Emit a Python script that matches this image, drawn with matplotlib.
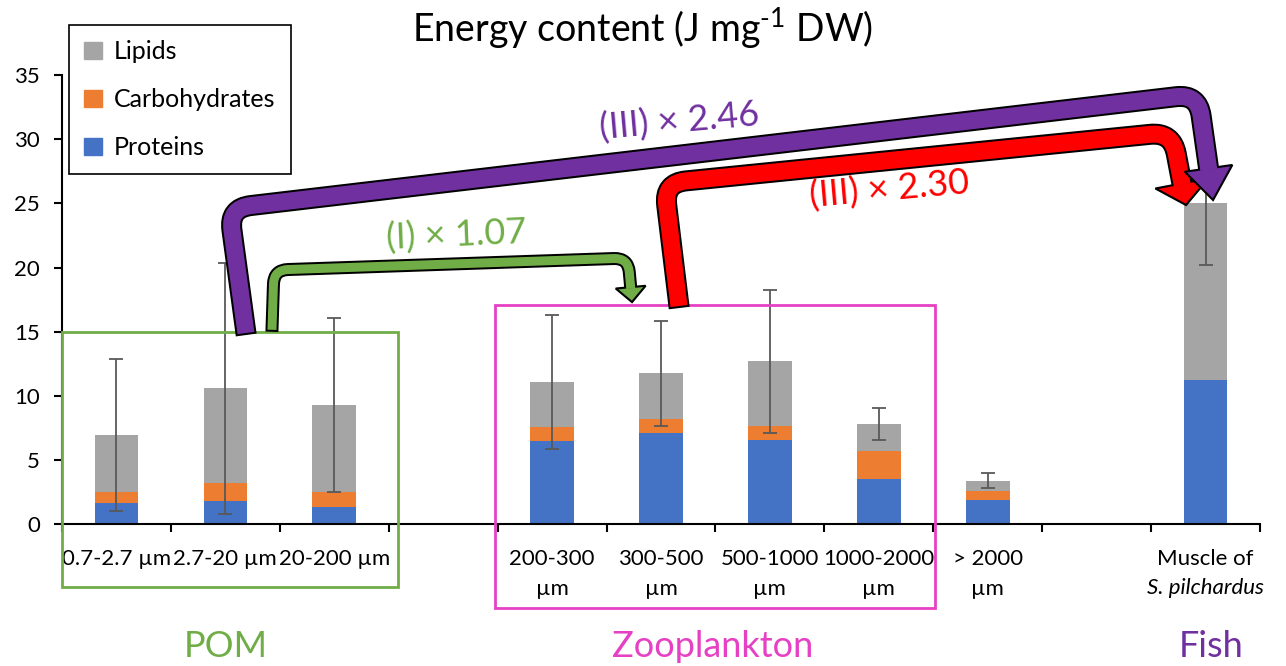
import numpy as np
import matplotlib
matplotlib.use("Agg")
import matplotlib.pyplot as plt
from matplotlib.patches import Patch, Rectangle, Polygon, PathPatch
from matplotlib.path import Path

plt.rcParams['font.family'] = ['Lato', 'DejaVu Sans']
plt.rcParams['mathtext.fontset'] = 'custom'
plt.rcParams['mathtext.rm'] = 'Lato'

# data (J mg-1 DW)
categories = ['0.7-2.7 µm', '2.7-20 µm', '20-200 µm', '200-300\nµm', '300-500\nµm',
              '500-1000\nµm', '1000-2000\nµm', '> 2000\nµm', 'Muscle of']
slots = [0, 1, 2, 4, 5, 6, 7, 8, 10]
proteins = [1.63, 1.79, 1.32, 6.49, 7.11, 6.57, 3.55, 1.87, 11.24]
carbohydrates = [0.86, 1.40, 1.17, 1.09, 1.07, 1.09, 2.16, 0.70, 0.0]
lipids = [4.46, 7.40, 6.80, 3.48, 3.58, 5.03, 2.10, 0.83, 13.81]
errors = [5.9, 9.8, 6.75, 5.23, 4.07, 5.55, 1.25, 0.6, 4.85]

c_lip = '#A5A5A5'
c_carb = '#ED7D31'
c_prot = '#4472C4'
purple = '#7030A0'
green = '#70AD47'
magenta = '#E641C4'

fig = plt.figure(figsize=(12.86, 6.66), dpi=100)
ax = fig.add_axes([62/1286, 1-524.3/666, 1198/1286, 449.3/666])

prot = np.array(proteins)
carb = np.array(carbohydrates)
lip = np.array(lipids)
ax.bar(slots, prot, width=0.4, color=c_prot, zorder=2)
ax.bar(slots, carb, width=0.4, bottom=prot, color=c_carb, zorder=2)
ax.bar(slots, lip, width=0.4, bottom=prot + carb, color=c_lip, zorder=2)
ax.errorbar(slots, prot + carb + lip, yerr=errors, fmt='none', ecolor='#595959',
            elinewidth=1.3, capsize=5, capthick=1.3, zorder=3)

ax.set_xlim(-0.5, 10.5)
ax.set_ylim(0, 35)
ax.set_yticks(range(0, 36, 5))
for s in ['top', 'right']:
    ax.spines[s].set_visible(False)
for s in ['left', 'bottom']:
    ax.spines[s].set_linewidth(1.5)
ax.tick_params(axis='y', length=6, width=1.5, pad=10, labelsize=16)
ax.set_xticks(slots)
ax.set_xticklabels(categories, fontsize=16, linespacing=1.6)
ax.tick_params(axis='x', length=0, pad=18)
ax.set_xticks(np.arange(-0.5, 11, 1), minor=True)
ax.tick_params(axis='x', which='minor', length=6, width=1.5)
ax.annotate('S. pilchardus', xy=(10, 0), xycoords=('data', 'axes fraction'),
            xytext=(0, -64), textcoords='offset pixels', ha='center', va='center',
            fontsize=16, style='italic', annotation_clip=False)

fig.text(0.5, 1-29/666, 'Energy content (J mg$^{\\text{-1}}$ DW)', ha='center', va='center',
         fontsize=27)

handles = [Patch(color=c_lip, label='Lipids'),
           Patch(color=c_carb, label='Carbohydrates'),
           Patch(color=c_prot, label='Proteins')]
leg = ax.legend(handles=handles, loc='upper left', bbox_to_anchor=(69/1286, 1-25/666),
                bbox_transform=fig.transFigure, borderaxespad=0, fancybox=False,
                edgecolor='black', fontsize=18, handlelength=0.7, handleheight=0.7,
                handletextpad=0.5, labelspacing=1.0, borderpad=0.6, framealpha=1)
leg.get_frame().set_linewidth(1.2)

# group boxes and labels
ax.add_patch(Rectangle((-0.5, -4.88), 3.085, 19.88, fill=False, edgecolor=green,
                       lw=2, clip_on=False, zorder=4))
ax.add_patch(Rectangle((3.48, -6.52), 4.04, 23.62, fill=False, edgecolor=magenta,
                       lw=2, clip_on=False, zorder=4))
ax.text(1.0, -9.55, 'POM', color=green, fontsize=26, ha='center', va='center', clip_on=False)
ax.text(5.47, -9.55, 'Zooplankton', color=magenta, fontsize=26, ha='center', va='center', clip_on=False)
ax.text(10.05, -9.55, 'Fish', color=purple, fontsize=26, ha='center', va='center', clip_on=False)


def bent_arrow(pts, color, shaft_px, head_w, head_len, r, z):
    P = ax.transData.transform(np.array(pts))
    d = P[-1] - P[-2]
    d = d / np.hypot(*d)
    n = np.array([-d[1], d[0]])
    base = P[-1] - d * head_len
    pts_shaft = list(P[:-1]) + [base + d * 1.5]
    d0 = pts_shaft[1] - pts_shaft[0]
    d0 = d0 / np.hypot(*d0)

    def make(pp):
        verts = [pp[0]]
        codes = [Path.MOVETO]
        for i in range(1, len(pp) - 1):
            a = pp[i] - (pp[i] - pp[i-1]) / np.hypot(*(pp[i] - pp[i-1])) * r
            b = pp[i] + (pp[i+1] - pp[i]) / np.hypot(*(pp[i+1] - pp[i])) * r
            verts += [a, pp[i], b]
            codes += [Path.LINETO, Path.CURVE3, Path.CURVE3]
        verts.append(pp[-1])
        codes.append(Path.LINETO)
        v = ax.transData.inverted().transform(np.array(verts))
        return Path(v, codes)

    k = 72 / 100
    outline = [pts_shaft[0] - d0 * 2] + pts_shaft[1:-1] + [base]
    ax.add_patch(PathPatch(make(outline), fill=False, edgecolor='black',
                           lw=(shaft_px + 4) * k, capstyle='butt', joinstyle='round',
                           clip_on=False, zorder=z))
    head = np.array([base + n * head_w / 2, P[-1], base - n * head_w / 2])
    ax.add_patch(Polygon(ax.transData.inverted().transform(head), closed=True,
                         facecolor=color, edgecolor='black', lw=1.5, clip_on=False,
                         zorder=z + 1))
    ax.add_patch(PathPatch(make(pts_shaft), fill=False, edgecolor=color,
                           lw=shaft_px * k, capstyle='butt', joinstyle='round',
                           clip_on=False, zorder=z + 2))


bent_arrow([(1.428, 15.15), (1.446, 19.81), (4.697, 20.74), (4.734, 17.31)],
           green, 9, 30, 15, 14, 7)
bent_arrow([(5.165, 17.0), (5.028, 26.58), (9.693, 30.55), (9.821, 24.87)],
           'red', 17, 54, 22, 22, 10)
bent_arrow([(1.189, 14.9), (1.033, 24.63), (9.931, 33.51), (10.069, 25.26)],
           purple, 17, 48, 32, 22, 13)

ax.text(3.12, 22.53, '(I) × 1.07', color=green, fontsize=26, ha='center', va='center',
        rotation=2.5, zorder=20)
ax.text(5.17, 31.33, '(III) × 2.46', color=purple, fontsize=26, ha='center', va='center',
        rotation=5, zorder=20)
ax.text(7.10, 26.04, '(III) × 2.30', color='red', fontsize=26, ha='center', va='center',
        rotation=5, zorder=20)

fig.savefig('out.png', dpi=100)
